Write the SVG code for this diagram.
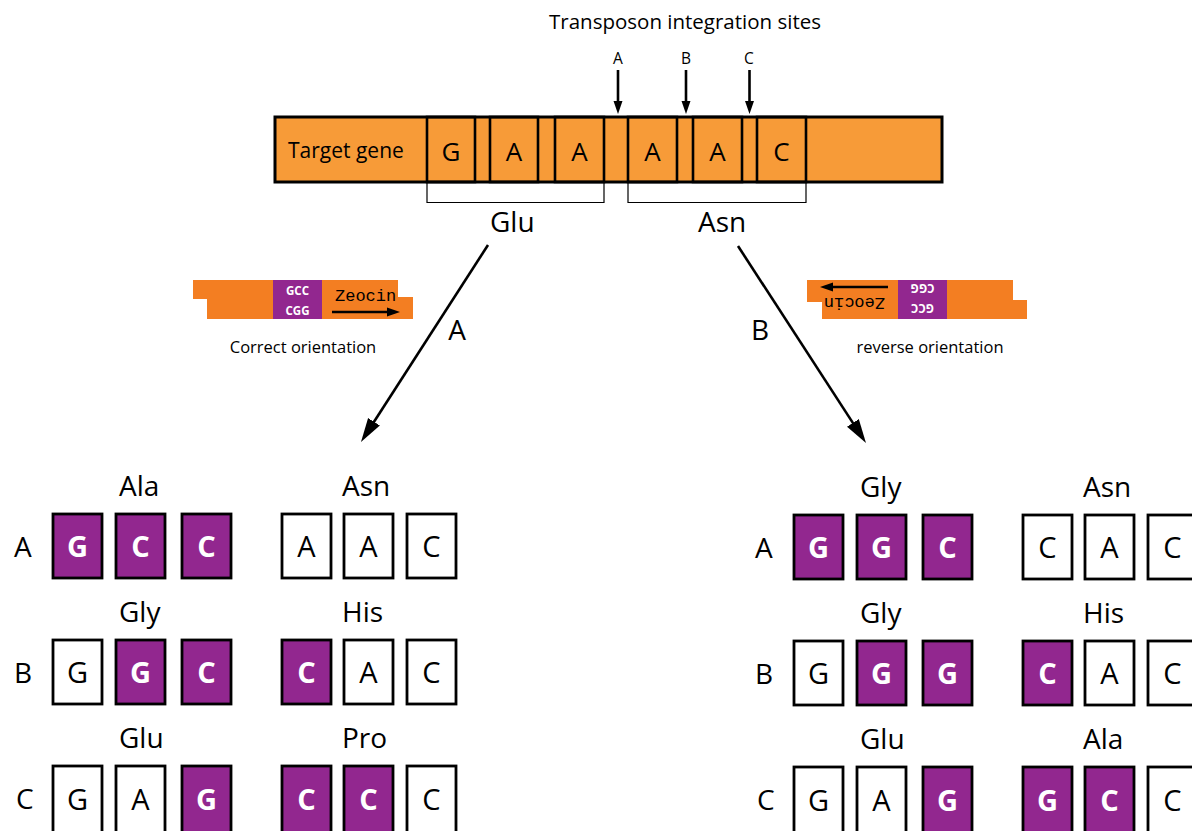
<svg xmlns="http://www.w3.org/2000/svg" xmlns:xlink="http://www.w3.org/1999/xlink" width="1192" height="831" viewBox="0 0 1192 831">
  <style>
    .t { font-family: "Open Sans", "Liberation Sans", sans-serif; fill: #000; }
    .mono { font-family: "Liberation Mono", "DejaVu Sans Mono", monospace; }
    .bar { fill: #F79B38; stroke: #000; stroke-width: 3; }
    .slot { fill: none; stroke: #000; stroke-width: 2.6; }
    .brk { fill: none; stroke: #000; stroke-width: 1.2; }
    .cas { fill: #F37E22; }
    .pur { fill: #92278F; }
    .cp { fill: #92278F; stroke: #000; stroke-width: 2.8; }
    .cw { fill: #fff; stroke: #000; stroke-width: 2.8; }
    .lw { fill: #fff; font-weight: bold; }
    .arr { stroke: #000; fill: none; }
    .mid { text-anchor: middle; }
  </style>
  <defs>
    <marker id="headS" markerUnits="userSpaceOnUse" markerWidth="16" markerHeight="12" viewBox="0 -6 16 12" refX="2" refY="0" orient="auto">
      <path d="M0,-4.5 L13,0 L0,4.5 z" fill="#000"/>
    </marker>
    <marker id="headL" markerUnits="userSpaceOnUse" markerWidth="26" markerHeight="16" viewBox="0 -8 26 16" refX="2" refY="0" orient="auto">
      <path d="M0,-7 L24,0 L0,7 z" fill="#000"/>
    </marker>

    <!-- Zeocin cassette, forward orientation -->
    <g id="cassette">
      <path class="cas" d="M193,280 H398 V297 H413 V319 H207 V299 H193 Z"/>
      <rect class="pur" x="273" y="280" width="49" height="39"/>
      <text class="t lw mid" x="297.5" y="295" font-size="11.5">GCC</text>
      <text class="t lw mid" x="297.5" y="315" font-size="11.5">CGG</text>
      <text class="mono" x="335" y="301" font-size="17">Zeocin</text>
      <line class="arr" x1="332" y1="312" x2="389" y2="312" stroke-width="2.6" marker-end="url(#headS)"/>
    </g>
  </defs>

  <!-- title and integration site markers -->
  <text class="t mid" x="685" y="29" font-size="20.5">Transposon integration sites</text>
  <g id="site-labels">
    <text class="t mid" x="618" y="64" font-size="15.5">A</text>
    <text class="t mid" x="686" y="64" font-size="15.5">B</text>
    <text class="t mid" x="749" y="64" font-size="15.5">C</text>
  </g>

  <!-- target gene with codon slots -->
  <g id="target-gene">
    <rect class="bar" x="275" y="117" width="667" height="65"/>
    <text class="t" x="288" y="158" font-size="21">Target gene</text>
    <rect class="slot" x="427" y="117" width="48" height="65"/>
    <rect class="slot" x="490" y="117" width="48" height="65"/>
    <rect class="slot" x="555" y="117" width="49" height="65"/>
    <rect class="slot" x="628" y="117" width="49" height="65"/>
    <rect class="slot" x="693" y="117" width="49" height="65"/>
    <rect class="slot" x="757" y="117" width="49" height="65"/>
    <g class="t mid" font-size="26">
      <text x="451" y="161">G</text>
      <text x="514" y="161">A</text>
      <text x="579.5" y="161">A</text>
      <text x="652.5" y="161">A</text>
      <text x="717.5" y="161">A</text>
      <text x="781.5" y="161">C</text>
    </g>
  </g>

  <g id="codon-brackets">
    <path class="brk" d="M427,182 V202.5 H604 V182"/>
    <path class="brk" d="M628,182 V202.5 H806 V182"/>
    <text class="t" x="490" y="232" font-size="28">Glu</text>
    <text class="t" x="698" y="232" font-size="28">Asn</text>
  </g>

  <!-- cassettes -->
  <g id="cassette-forward">
    <use xlink:href="#cassette"/>
    <text class="t mid" x="303" y="353" font-size="16.5">Correct orientation</text>
  </g>
  <g id="cassette-reverse">
    <use xlink:href="#cassette" transform="rotate(180 610 299.5)"/>
    <text class="t mid" x="930" y="353" font-size="16.5">reverse orientation</text>
  </g>

  <!-- connectors -->
  <g id="connectors">
    <line class="arr" x1="618" y1="70" x2="618" y2="103" stroke-width="2.6" marker-end="url(#headS)"/>
    <line class="arr" x1="686" y1="70" x2="686" y2="103" stroke-width="2.6" marker-end="url(#headS)"/>
    <line class="arr" x1="749.5" y1="70" x2="749.5" y2="103" stroke-width="2.6" marker-end="url(#headS)"/>
    <line class="arr" x1="488" y1="245" x2="372.9" y2="423.5" stroke-width="2.6" marker-end="url(#headL)"/>
    <line class="arr" x1="738" y1="246" x2="854" y2="424.6" stroke-width="2.6" marker-end="url(#headL)"/>
    <text class="t mid" x="457" y="340" font-size="28">A</text>
    <text class="t mid" x="760" y="340" font-size="28">B</text>
  </g>

  <!-- outcomes, forward insertion -->
  <g id="forward-results" class="t">
    <g font-size="28">
      <text x="14" y="557">A</text>
      <text x="14" y="683">B</text>
      <text x="16" y="809">C</text>
    </g>
    <g id="f-A-ala">
      <text x="119" y="496" font-size="28">Ala</text>
      <rect class="cp" x="53" y="514" width="49" height="64"/>
      <rect class="cp" x="116" y="514" width="49" height="64"/>
      <rect class="cp" x="182" y="514" width="49" height="64"/>
      <g class="mid lw" font-size="29">
        <text x="77.5" y="557">G</text><text x="140.5" y="557">C</text><text x="206.5" y="557">C</text>
      </g>
    </g>
    <g id="f-A-asn">
      <text x="342" y="496" font-size="28">Asn</text>
      <rect class="cw" x="282" y="514" width="49" height="64"/>
      <rect class="cw" x="344" y="514" width="49" height="64"/>
      <rect class="cw" x="407" y="514" width="49" height="64"/>
      <g class="mid" font-size="29">
        <text x="306.5" y="557">A</text><text x="368.5" y="557">A</text><text x="431.5" y="557">C</text>
      </g>
    </g>
    <g id="f-B-gly">
      <text x="119" y="622" font-size="28">Gly</text>
      <rect class="cw" x="53" y="640" width="49" height="64"/>
      <rect class="cp" x="116" y="640" width="49" height="64"/>
      <rect class="cp" x="182" y="640" width="49" height="64"/>
      <text class="mid" x="77.5" y="683" font-size="29">G</text>
      <g class="mid lw" font-size="29">
        <text x="140.5" y="683">G</text><text x="206.5" y="683">C</text>
      </g>
    </g>
    <g id="f-B-his">
      <text x="342" y="622" font-size="28">His</text>
      <rect class="cp" x="282" y="640" width="49" height="64"/>
      <rect class="cw" x="344" y="640" width="49" height="64"/>
      <rect class="cw" x="407" y="640" width="49" height="64"/>
      <text class="mid lw" x="306.5" y="683" font-size="29">C</text>
      <g class="mid" font-size="29">
        <text x="368.5" y="683">A</text><text x="431.5" y="683">C</text>
      </g>
    </g>
    <g id="f-C-glu">
      <text x="119" y="748" font-size="28">Glu</text>
      <rect class="cw" x="53" y="766" width="49" height="72"/>
      <rect class="cw" x="116" y="766" width="49" height="72"/>
      <rect class="cp" x="182" y="766" width="49" height="72"/>
      <g class="mid" font-size="29">
        <text x="77.5" y="810">G</text><text x="140.5" y="810">A</text>
      </g>
      <text class="mid lw" x="206.5" y="810" font-size="29">G</text>
    </g>
    <g id="f-C-pro">
      <text x="342" y="748" font-size="28">Pro</text>
      <rect class="cp" x="282" y="766" width="49" height="72"/>
      <rect class="cp" x="344" y="766" width="49" height="72"/>
      <rect class="cw" x="407" y="766" width="49" height="72"/>
      <g class="mid lw" font-size="29">
        <text x="306.5" y="810">C</text><text x="368.5" y="810">C</text>
      </g>
      <text class="mid" x="431.5" y="810" font-size="29">C</text>
    </g>
  </g>

  <!-- outcomes, reverse insertion -->
  <g id="reverse-results" class="t" transform="translate(741 1)">
    <g font-size="28">
      <text x="14" y="557">A</text>
      <text x="14" y="683">B</text>
      <text x="16" y="809">C</text>
    </g>
    <g id="r-A-gly">
      <text x="119" y="496" font-size="28">Gly</text>
      <rect class="cp" x="53" y="514" width="49" height="64"/>
      <rect class="cp" x="116" y="514" width="49" height="64"/>
      <rect class="cp" x="182" y="514" width="49" height="64"/>
      <g class="mid lw" font-size="29">
        <text x="77.5" y="557">G</text><text x="140.5" y="557">G</text><text x="206.5" y="557">C</text>
      </g>
    </g>
    <g id="r-A-asn">
      <text x="342" y="496" font-size="28">Asn</text>
      <rect class="cw" x="282" y="514" width="49" height="64"/>
      <rect class="cw" x="344" y="514" width="49" height="64"/>
      <rect class="cw" x="407" y="514" width="49" height="64"/>
      <g class="mid" font-size="29">
        <text x="306.5" y="557">C</text><text x="368.5" y="557">A</text><text x="431.5" y="557">C</text>
      </g>
    </g>
    <g id="r-B-gly">
      <text x="119" y="622" font-size="28">Gly</text>
      <rect class="cw" x="53" y="640" width="49" height="64"/>
      <rect class="cp" x="116" y="640" width="49" height="64"/>
      <rect class="cp" x="182" y="640" width="49" height="64"/>
      <text class="mid" x="77.5" y="683" font-size="29">G</text>
      <g class="mid lw" font-size="29">
        <text x="140.5" y="683">G</text><text x="206.5" y="683">G</text>
      </g>
    </g>
    <g id="r-B-his">
      <text x="342" y="622" font-size="28">His</text>
      <rect class="cp" x="282" y="640" width="49" height="64"/>
      <rect class="cw" x="344" y="640" width="49" height="64"/>
      <rect class="cw" x="407" y="640" width="49" height="64"/>
      <text class="mid lw" x="306.5" y="683" font-size="29">C</text>
      <g class="mid" font-size="29">
        <text x="368.5" y="683">A</text><text x="431.5" y="683">C</text>
      </g>
    </g>
    <g id="r-C-glu">
      <text x="119" y="748" font-size="28">Glu</text>
      <rect class="cw" x="53" y="766" width="49" height="72"/>
      <rect class="cw" x="116" y="766" width="49" height="72"/>
      <rect class="cp" x="182" y="766" width="49" height="72"/>
      <g class="mid" font-size="29">
        <text x="77.5" y="810">G</text><text x="140.5" y="810">A</text>
      </g>
      <text class="mid lw" x="206.5" y="810" font-size="29">G</text>
    </g>
    <g id="r-C-ala">
      <text x="342" y="748" font-size="28">Ala</text>
      <rect class="cp" x="282" y="766" width="49" height="72"/>
      <rect class="cp" x="344" y="766" width="49" height="72"/>
      <rect class="cw" x="407" y="766" width="49" height="72"/>
      <g class="mid lw" font-size="29">
        <text x="306.5" y="810">G</text><text x="368.5" y="810">C</text>
      </g>
      <text class="mid" x="431.5" y="810" font-size="29">C</text>
    </g>
  </g>
</svg>
